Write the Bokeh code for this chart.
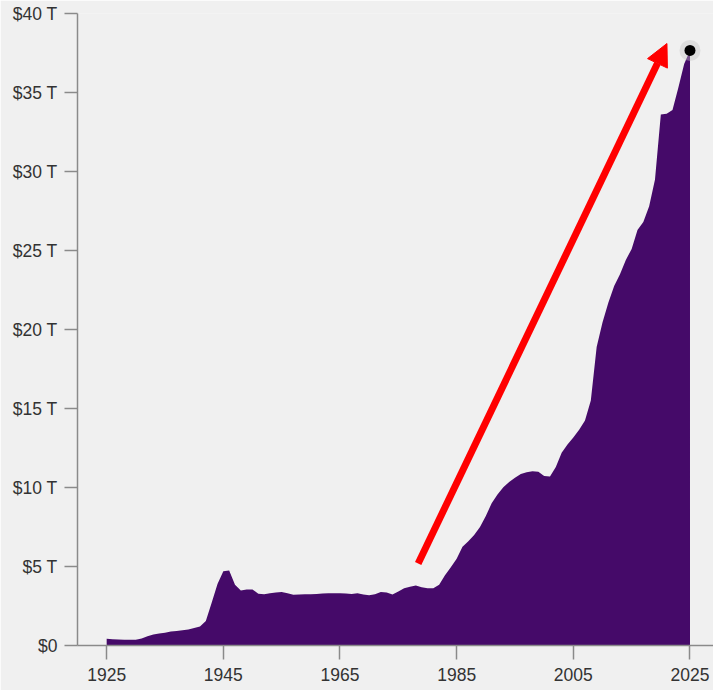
from bokeh.plotting import figure
from bokeh.models import ColumnDataSource, Range1d, FixedTicker, Arrow, NormalHead
from bokeh.embed import file_html
from bokeh.resources import INLINE

# ---- data (trillions of dollars) ----
years = list(range(1925, 2026))
debt = [
    0.42, 0.40, 0.38, 0.37, 0.36, 0.36, 0.45, 0.58, 0.70, 0.76,   # 1925-1934
    0.80, 0.88, 0.92, 0.96, 1.02, 1.10, 1.20, 1.55, 2.70, 3.90,   # 1935-1944
    4.70, 4.75, 3.85, 3.48, 3.55, 3.55, 3.27, 3.25, 3.30, 3.35,   # 1945-1954
    3.38, 3.30, 3.21, 3.22, 3.25, 3.24, 3.26, 3.29, 3.30, 3.31,   # 1955-1964
    3.31, 3.29, 3.26, 3.30, 3.22, 3.18, 3.25, 3.38, 3.36, 3.22,   # 1965-1974
    3.42, 3.62, 3.72, 3.80, 3.69, 3.62, 3.62, 3.85, 4.45, 4.95,   # 1975-1984
    5.49, 6.25, 6.60, 7.00, 7.50, 8.20, 9.00, 9.55, 10.02, 10.35, # 1985-1994
    10.62, 10.85, 10.97, 11.03, 11.00, 10.72, 10.70, 11.30, 12.20, 12.72,  # 1995-2004
    13.16, 13.66, 14.24, 15.50, 18.90, 20.45, 21.70, 22.75, 23.50, 24.40,  # 2005-2014
    25.10, 26.30, 26.80, 27.80, 29.50, 33.60, 33.65, 33.90, 35.30, 36.80,  # 2015-2024
    37.66,                                                         # 2025
]
zeros = [0.0] * len(years)

x_ticks = [1925, 1945, 1965, 1985, 2005, 2025]
y_ticks = [0, 5, 10, 15, 20, 25, 30, 35, 40]
y_tick_labels = ["$0", "$5 T", "$10 T", "$15 T", "$20 T", "$25 T", "$30 T", "$35 T", "$40 T"]

latest_year = [2025]
latest_value = [37.66]

arrow_start = (1978.4, 5.19)
arrow_end = (2021.05, 38.1)

BG = "#f0f0f0"
FILL = "#450a69"
AXIS = "#8a8a8a"
TEXT = "#333333"
FONT = "Liberation Sans"

p = figure(
    width=713, height=690,
    x_range=Range1d(1920, 2029.03), y_range=Range1d(0, 40),
    output_backend="svg", toolbar_location=None,
    min_border_left=77, min_border_top=13, min_border_right=0, min_border_bottom=45,
    background_fill_color=BG, border_fill_color=BG, outline_line_color=None,
)
p.grid.visible = False

src = ColumnDataSource(dict(year=years, debt=debt, zero=zeros))
p.varea(x="year", y1="zero", y2="debt", source=src, fill_color=FILL)

p.add_layout(Arrow(
    end=NormalHead(size=22, fill_color="#ff0000", line_color="#ff0000", line_width=1),
    x_start=arrow_start[0], y_start=arrow_start[1],
    x_end=arrow_end[0], y_end=arrow_end[1],
    line_color="#ff0000", line_width=7,
))

p.scatter(x=latest_year, y=latest_value, size=21, fill_color="#c4c4c4", fill_alpha=0.4, line_color=None)
p.scatter(x=latest_year, y=latest_value, size=11, fill_color="black", line_color=None)

for ax in (p.xaxis[0], p.yaxis[0]):
    ax.axis_line_color = AXIS
    ax.axis_line_width = 1.5
    ax.major_tick_line_color = AXIS
    ax.major_tick_line_width = 1.5
    ax.major_tick_in = 0
    ax.minor_tick_line_color = None
    ax.major_label_text_font = FONT
    ax.major_label_text_font_size = "17.5px"
    ax.major_label_text_color = TEXT

p.xaxis.ticker = FixedTicker(ticks=x_ticks)
p.xaxis.major_tick_out = 14
p.xaxis.major_label_standoff = 8

p.yaxis.ticker = FixedTicker(ticks=y_ticks)
p.yaxis.major_label_overrides = {t: lab for t, lab in zip(y_ticks, y_tick_labels)}
p.yaxis.major_tick_out = 13
p.yaxis.major_label_standoff = 7

html = file_html(p, INLINE)
html = html.replace("<body>", '<body style="background-color:%s; margin:0; overflow:hidden;">' % BG, 1)
open("out.html", "w").write(html)
